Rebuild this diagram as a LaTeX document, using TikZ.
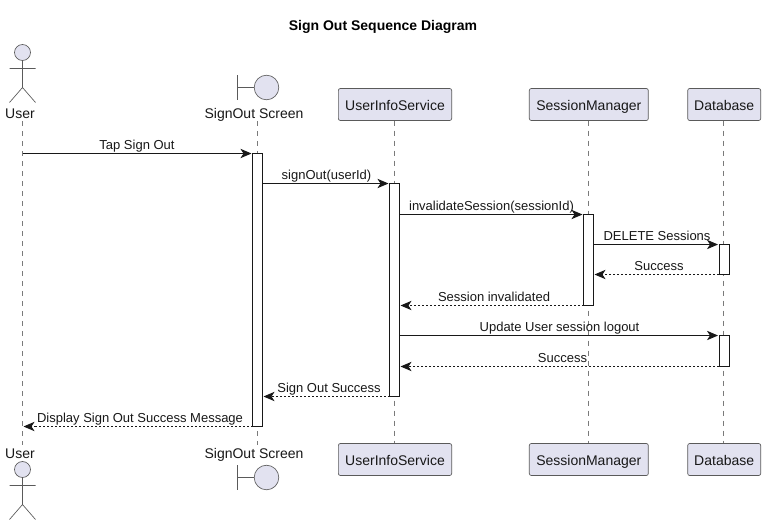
\documentclass[tikz,border=0pt]{standalone}
\usepackage{fontspec}
\setmainfont{Liberation Sans}
\usetikzlibrary{arrows.meta}
\definecolor{pfill}{HTML}{E2E2F0}
\definecolor{pline}{HTML}{5A5A5A}
\definecolor{lline}{HTML}{7A7A7A}
\definecolor{ink}{HTML}{181818}
\tikzset{
  x=0.75pt,y=-0.75pt,
  lbl/.style={font=\fontsize{9.75}{11}\selectfont,text=ink,inner sep=0pt,anchor=base},
  alabel/.style={font=\fontsize{10.5}{12}\selectfont,text=ink,inner sep=0pt,anchor=base},
  ttl/.style={font=\fontsize{10.5}{12}\bfseries\selectfont,text=black,inner sep=0pt,anchor=base},
  pbox/.style={draw=pline,fill=pfill,line width=0.5pt,rounded corners=1.5pt,minimum width=#1,minimum height=24pt,inner sep=0pt,outer sep=0pt},
  ptext/.style={font=\fontsize{10.5}{12}\selectfont,text=ink,inner sep=0pt,anchor=base},
  life/.style={draw=lline,line width=0.4pt,dash pattern=on 3.75pt off 3.75pt},
  act/.style={draw=ink,fill=white,line width=0.75pt,minimum width=7.5pt,inner sep=0pt,outer sep=0pt},
  glyph/.style={draw=pline,fill=pfill,line width=0.5pt},
  stick/.style={draw=pline,line width=0.5pt},
  tipped/.style={-{Stealth[length=8.25pt,width=7pt,inset=2.25pt]},shorten >=0.75pt},
  msg/.style={draw=ink,line width=0.75pt,tipped},
  ret/.style={draw=ink,line width=0.75pt,dash pattern=on 1.5pt off 1.5pt,tipped},
}
\begin{document}
\begin{tikzpicture}
\useasboundingbox (0,0) rectangle (766,525);
\fill[white] (0,0) rectangle (766,525);
\node[ttl] (title) at (383,30) {Sign Out Sequence Diagram};
% participants
\node[pbox=85pt] (i1) at (395,104.5) {};
\node[pbox=89.25pt] (m1) at (588.8,104.5) {};
\node[pbox=54.75pt] (d1) at (724.2,104.5) {};
\node[pbox=85pt] (i2) at (395,459.5) {};
\node[pbox=89.25pt] (m2) at (588.8,459.5) {};
\node[pbox=54.75pt] (d2) at (724.2,459.5) {};
\node[ptext] (i1t) at (395,110) {UserInfoService};
\node[ptext] (m1t) at (588.8,110) {SessionManager};
\node[ptext] (d1t) at (724.2,110) {Database};
\node[ptext] (i2t) at (395,465) {UserInfoService};
\node[ptext] (m2t) at (588.8,465) {SessionManager};
\node[ptext] (d2t) at (724.2,465) {Database};
% lifeline ends
\coordinate (ut) at (22.5,121); \coordinate (ub) at (22.5,445);
\coordinate (st) at (257.5,121); \coordinate (sb) at (257.5,445);
\coordinate (it) at (394.5,120.7); \coordinate (ib) at (394.5,443.3);
\coordinate (mt) at (588.5,120.7); \coordinate (mb) at (588.5,443.3);
\coordinate (dt) at (723.5,120.7); \coordinate (db) at (723.5,443.3);
\draw[life] (ut)--(ub); \draw[life] (st)--(sb); \draw[life] (it)--(ib); \draw[life] (mt)--(mb); \draw[life] (dt)--(db);
% actor top
\draw[glyph] (22.5,52.5) circle[radius=8];
\draw[stick] (22.5,60.5)--(22.5,87.5) (9.5,68.5)--(35.5,68.5) (22.5,87.5)--(9.5,102.5) (22.5,87.5)--(35.5,102.5);
\node[alabel] (u1) at (20,118) {User};
% actor bottom
\draw[glyph] (22.5,469.5) circle[radius=8];
\draw[stick] (22.5,477.5)--(22.5,504.5) (9.5,485.5)--(35.5,485.5) (22.5,504.5)--(9.5,519.5) (22.5,504.5)--(35.5,519.5);
\node[alabel] (u2) at (20,458) {User};
% boundary top
\draw[stick] (237.5,75)--(237.5,99.5) (237.5,87.5)--(254,87.5);
\draw[glyph] (266.5,87.5) circle[radius=12.3];
\node[alabel] (s1) at (254,118) {SignOut Screen};
% boundary bottom
\draw[stick] (237.5,465)--(237.5,489.5) (237.5,477.5)--(254,477.5);
\draw[glyph] (266.5,477.5) circle[radius=12.3];
\node[alabel] (s2) at (254,458) {SignOut Screen};
% activations
\node[act,minimum height=204.75pt] (a1) at (257.5,290) {};
\node[act,minimum height=159.75pt] (a2) at (394.5,290) {};
\node[act,minimum height=68.25pt] (a3) at (588.5,260) {};
\node[act,minimum height=22.5pt] (a4) at (724,259.5) {};
\node[act,minimum height=23.25pt] (a5) at (724,351) {};
% messages
\draw[msg] (ut |- a1.north)--(a1.north west);
\node[lbl] (t1) at (137,149.5) {Tap Sign Out};
\draw[msg] (a1.east |- a2.north)--(a2.north west);
\node[lbl] (t2) at (326.5,179.5) {signOut(userId)};
\draw[msg] (a2.east |- a3.north)--(a3.north west);
\node[lbl] (t3) at (491.5,210) {invalidateSession(sessionId)};
\draw[msg] (a3.east |- a4.north)--(a4.north west);
\node[lbl] (t4) at (657,240) {DELETE Sessions};
\draw[ret] (a4.south west)--(a3.east |- a4.south);
\node[lbl] (t5) at (659,270) {Success};
\draw[ret] (a3.south west)--(a2.east |- a3.south);
\node[lbl] (t6) at (494,301) {Session invalidated};
\draw[msg] (a2.east |- a5.north)--(a5.north west);
\node[lbl] (t7) at (559.5,331) {Update User session logout};
\draw[ret] (a5.south west)--(a2.east |- a5.south);
\node[lbl] (t8) at (562.5,362) {Success};
\draw[ret] (a2.south west)--(a1.east |- a2.south);
\node[lbl] (t9) at (329,392) {Sign Out Success};
\draw[ret] (a1.south west)--(ut |- a1.south);
\node[lbl] (t10) at (140,422) {Display Sign Out Success Message};
\end{tikzpicture}
\end{document}
